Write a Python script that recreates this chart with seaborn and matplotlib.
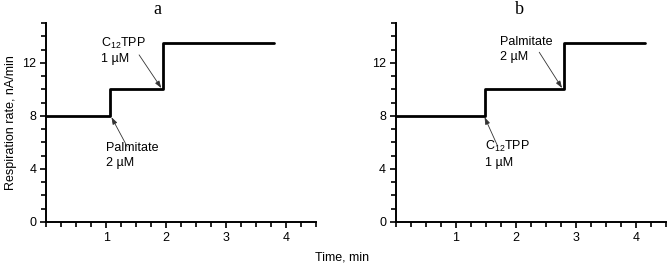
import matplotlib
matplotlib.use("Agg")
import matplotlib.pyplot as plt
import seaborn as sns
import pandas as pd
import numpy as np
from matplotlib.ticker import MultipleLocator

sns.set_theme(style="ticks")
plt.rcParams['font.family'] = ['Liberation Sans', 'DejaVu Sans']
plt.rcParams['mathtext.fontset'] = 'custom'
plt.rcParams['mathtext.rm'] = 'Liberation Sans'

# Panel a
time_a = [0, 1.07, 1.95, 3.8]
rate_a = [8, 10, 13.5, 13.5]
# Panel b
time_b = [0, 1.48, 2.8, 4.15]
rate_b = [8, 10, 13.5, 13.5]

panel_titles = ["a", "b"]
ylabel = "Respiration rate, nA/min"
xlabel = "Time, min"
lbl_c12 = "C$_{12}$TPP\n1 µM"
lbl_pal = "Palmitate\n2 µM"

fig = plt.figure(figsize=(6.68, 2.65), dpi=100)
ax_a = fig.add_axes([0.0689, 0.1623, 0.4045, 0.7507])
ax_b = fig.add_axes([0.5924, 0.1623, 0.4045, 0.7507])

for ax, t, r, title in [(ax_a, time_a, rate_a, panel_titles[0]),
                        (ax_b, time_b, rate_b, panel_titles[1])]:
    df = pd.DataFrame({"t": t, "r": r})
    sns.lineplot(data=df, x="t", y="r", ax=ax, color="black", lw=2.0,
                 drawstyle="steps-post")
    ax.set_xlim(0, 4.5)
    ax.set_ylim(0, 15)
    ax.xaxis.set_major_locator(MultipleLocator(1))
    ax.xaxis.set_minor_locator(MultipleLocator(0.25))
    ax.yaxis.set_major_locator(MultipleLocator(4))
    ax.yaxis.set_minor_locator(MultipleLocator(1))
    ax.set_xticks([1, 2, 3, 4])
    ax.tick_params(which="both", direction="out", width=1.2, color="black",
                   labelsize=9, pad=3, labelcolor="black")
    ax.tick_params(which="major", length=4)
    ax.tick_params(which="minor", length=3.5)
    for s in ["top", "right"]:
        ax.spines[s].set_visible(False)
    for s in ["left", "bottom"]:
        ax.spines[s].set_linewidth(1.4)
        ax.spines[s].set_color("black")
    ax.set_xlabel("")
    ax.set_ylabel("")
    ax.patch.set_alpha(0)

ax_a.set_ylabel(ylabel, fontsize=9, labelpad=4, color="black")
fig.text(0.512, 0.027, xlabel, fontsize=9, ha="center", va="center", color="black")

fig.text(157/668, 1 - 10/265, panel_titles[0], fontsize=13, ha="center", va="center",
         family="Liberation Serif", color="black")
fig.text(519/668, 1 - 10/265, panel_titles[1], fontsize=13, ha="center", va="center",
         family="Liberation Serif", color="black")

arrow = dict(arrowstyle="-|>,head_length=0.35,head_width=0.12", color="#333333", lw=0.6,
             shrinkA=0, shrinkB=0)
tkw = dict(fontsize=9, ha="left", va="bottom", color="black", linespacing=1.3)

# panel a annotations
ax_a.text(0.92, 11.8, lbl_c12, **tkw)
ax_a.annotate("", xy=(time_a[2] - 0.03, rate_a[1] + 0.1), xytext=(1.55, 12.6),
              arrowprops=arrow)
ax_a.text(1.0, 4.0, lbl_pal, **tkw)
ax_a.annotate("", xy=(time_a[1] + 0.02, rate_a[0] - 0.1), xytext=(1.35, 5.7),
              arrowprops=arrow)
# panel b annotations
ax_b.text(1.73, 12.0, lbl_pal, **tkw)
ax_b.annotate("", xy=(time_b[2] - 0.03, rate_b[1] + 0.1), xytext=(2.39, 12.8),
              arrowprops=arrow)
ax_b.text(1.48, 4.0, lbl_c12, **tkw)
ax_b.annotate("", xy=(time_b[1] + 0.0, rate_b[0] - 0.1), xytext=(1.69, 5.8),
              arrowprops=arrow)

fig.savefig("out.png", dpi=100)
